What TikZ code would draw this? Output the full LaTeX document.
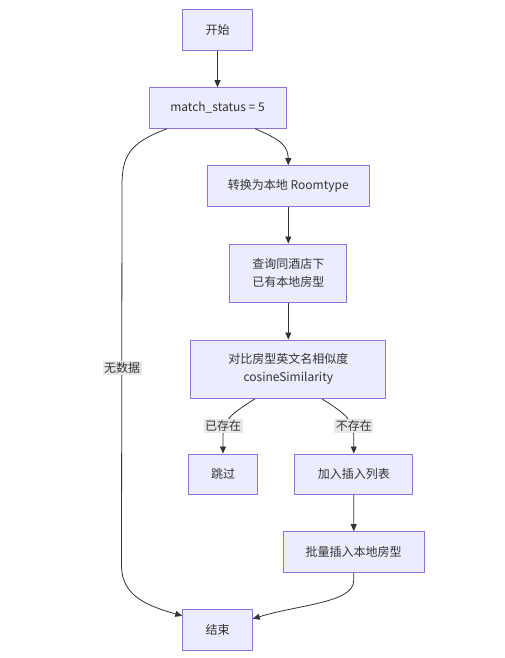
\documentclass[tikz,border=0pt]{standalone}
\usepackage{fontspec}
\setmainfont{Noto Sans CJK SC}
\usetikzlibrary{arrows.meta,calc}
\definecolor{nodefill}{HTML}{ECECFF}
\definecolor{nodeline}{HTML}{9370DB}
\definecolor{edge}{HTML}{333333}
\definecolor{lblbg}{HTML}{E8E8E8}
\begin{document}
\begin{tikzpicture}[x=1pt,y=-1pt,
  box/.style={draw=nodeline,fill=nodefill,line width=1pt,text=edge,align=center,
    inner sep=0pt,font=\fontsize{12}{18}\selectfont},
  conn/.style={draw=edge,line width=0.8pt,-{Triangle[length=7pt,width=6pt]}},
  lbl/.style={fill=lblbg,text=edge,inner sep=1.5pt,font=\fontsize{12}{18}\selectfont}]
\useasboundingbox (0,0) rectangle (504,658);
\node[box,minimum width=69.5,minimum height=41] (start) at (217.5,30) {开始};
\node[box,minimum width=137,minimum height=40.5] (ms) at (217.5,108) {match\_status = 5};
\node[box,minimum width=162,minimum height=41] (conv) at (288.3,186.2) {转换为本地 Roomtype};
\node[box,minimum width=117.3,minimum height=58.3] (query) at (288.3,273.2) {查询同酒店下\\已有本地房型};
\node[box,minimum width=195.3,minimum height=58.3] (cmp) at (288.3,369.2) {对比房型英文名相似度\\cosineSimilarity};
\node[box,minimum width=69.4,minimum height=40.3] (skip) at (223,474.2) {跳过};
\node[box,minimum width=117.7,minimum height=40.3] (add) at (353.8,474.2) {加入插入列表};
\node[box,minimum width=141.3,minimum height=40.6] (batch) at (353.7,552) {批量插入本地房型};
\node[box,minimum width=69.6,minimum height=41] (end) at (217.5,629.8) {结束};

\draw[conn] (start) -- (ms);
\draw[conn] ($(ms.south)+(37.5,0)$) .. controls ($(ms.south)+(66,12)$) and ($(ms.south)+(70.8,18)$) .. ($(ms.south)+(70.8,32)$) -- (conv.north);
\draw[conn] ($(ms.south)+(-50.5,0)$) .. controls ($(ms.south)+(-88,14)$) and ($(ms.south)+(-95.5,27)$) .. ($(ms.south)+(-95.5,57)$) coordinate (l1)
  -- ($(end.west)+(-60.7,-64)$) .. controls ($(end.west)+(-60.7,-34)$) and ($(end.west)+(-35,-24)$) .. ($(end.west)+(0,-14)$);
\node[lbl] (nodata) at (122,368) {无数据};
\draw[conn] (conv) -- (query);
\draw[conn] (query) -- (cmp);
\draw[conn] ($(cmp.south)+(-33.3,0)$) .. controls ($(cmp.south)+(-57,15)$) and ($(skip.north)+(0,-34)$) .. ($(skip.north)+(0,-16)$) -- (skip.north);
\node[lbl] (exists) at (223,426) {已存在};
\draw[conn] ($(cmp.south)+(33.7,0)$) .. controls ($(cmp.south)+(57,15)$) and ($(add.north)+(0,-34)$) .. ($(add.north)+(0,-16)$) -- (add.north);
\node[lbl] (notexists) at (353.8,426) {不存在};
\draw[conn] (add) -- (batch);
\draw[conn] (batch.south) -- ($(batch.south)+(0,8)$) .. controls ($(batch.south)+(0,30)$) and ($(end.east)+(45,-25)$) .. ($(end.east)+(0,-11)$);
\end{tikzpicture}
\end{document}
